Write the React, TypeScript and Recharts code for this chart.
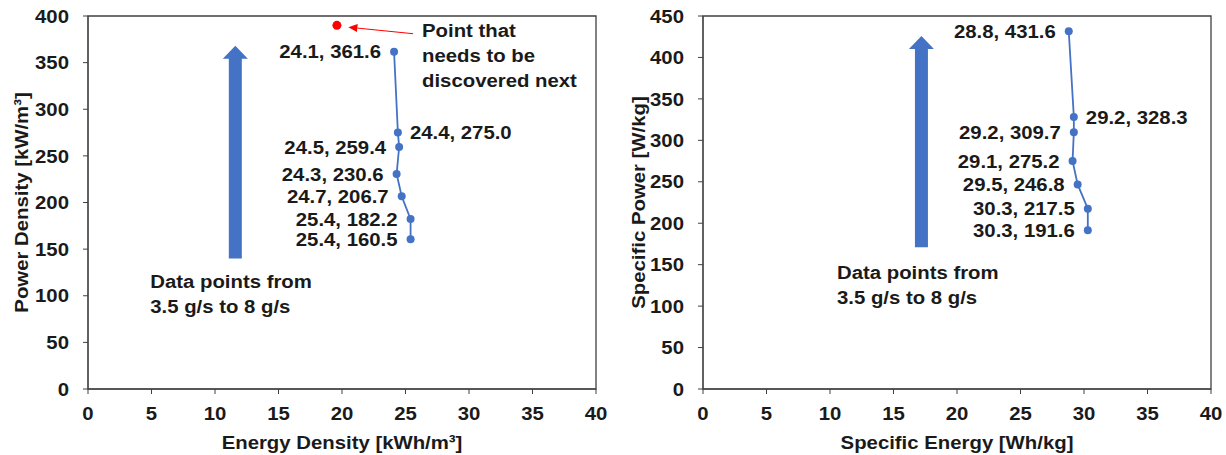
import {
  ReferenceArea,
  ReferenceDot,
  ReferenceLine,
  Scatter,
  ScatterChart,
  XAxis,
  YAxis,
} from "recharts";

// left panel: energy density vs power density
const energyDensity = [24.1, 24.4, 24.5, 24.3, 24.7, 25.4, 25.4];
const powerDensity = [361.6, 275.0, 259.4, 230.6, 206.7, 182.2, 160.5];
const nextPoint = { x: 19.6, y: 390 };

// right panel: specific energy vs specific power
const specificEnergy = [28.8, 29.2, 29.2, 29.1, 29.5, 30.3, 30.3];
const specificPower = [431.6, 328.3, 309.7, 275.2, 246.8, 217.5, 191.6];

// which labels sit on the right of their point
const labelOnRight = [false, true, false, false, false, false, false];

const xTicks = [0, 5, 10, 15, 20, 25, 30, 35, 40];
const densityTicks = [0, 50, 100, 150, 200, 250, 300, 350, 400];
const specificTicks = [0, 50, 100, 150, 200, 250, 300, 350, 400, 450];

const BLUE = "#4472C4";
const FONT = "'Liberation Sans', Arial, sans-serif";
const INK = "#1a1a1a";

const toPoints = (xs: number[], ys: number[]) =>
  xs.map((x, i) => ({ x, y: ys[i], right: labelOnRight[i] }));

// the source text is a bit wider than plain Arial bold, so stretch it along the baseline
function WText(props: {
  x: number;
  y: number;
  anchor?: "start" | "middle" | "end";
  rotate?: number;
  lines: string[];
}) {
  const { x, y, anchor = "start", rotate = 0, lines } = props;
  return (
    <text
      transform={`translate(${x},${y}) rotate(${rotate}) scale(1.1,1)`}
      textAnchor={anchor}
      dominantBaseline="central"
      fontSize={18.5}
      fontWeight="bold"
      fontFamily={FONT}
      fill={INK}
    >
      {lines.map((l, i) => (
        <tspan key={i} x={0} dy={i === 0 ? 0 : 25}>
          {l}
        </tspan>
      ))}
    </text>
  );
}

const LabeledDot = (p: any) => {
  const d = p.payload ?? p;
  const right = d.right;
  return (
    <g>
      <circle cx={p.cx} cy={p.cy} r={4} fill={BLUE} />
      <WText
        x={right ? p.cx + 12 : p.cx - 13}
        y={p.cy}
        anchor={right ? "start" : "end"}
        lines={[`${d.x.toFixed(1)}, ${d.y.toFixed(1)}`]}
      />
    </g>
  );
};

const BlockArrow = (p: any) => {
  const x = p.x1;
  const top = Math.min(p.y1, p.y2);
  const bot = Math.max(p.y1, p.y2);
  const shaft = 6.5;
  const head = 12.5;
  const headH = 13;
  const pts = [
    [x - shaft, bot],
    [x - shaft, top + headH],
    [x - head, top + headH],
    [x, top],
    [x + head, top + headH],
    [x + shaft, top + headH],
    [x + shaft, bot],
  ];
  return <polygon points={pts.map((q) => q.join(",")).join(" ")} fill={BLUE} />;
};

const Pointer = (p: any) => {
  const { x1, y1, x2, y2 } = p;
  const a = Math.atan2(y2 - y1, x2 - x1);
  const L = 9;
  const W = 4;
  const bx = x2 - L * Math.cos(a);
  const by = y2 - L * Math.sin(a);
  const nx = -Math.sin(a) * W;
  const ny = Math.cos(a) * W;
  return (
    <g>
      <line x1={x1} y1={y1} x2={bx} y2={by} stroke="#FF0000" strokeWidth={1} />
      <polygon points={`${x2},${y2} ${bx + nx},${by + ny} ${bx - nx},${by - ny}`} fill="#FF0000" />
    </g>
  );
};

const textBlock = (lines: string[]) => (p: any) => <WText x={p.cx} y={p.cy} lines={lines} />;

const XTick = (p: any) => (
  <WText x={p.x} y={p.y + 11} anchor="middle" lines={[String(p.payload.value)]} />
);
const YTick = (p: any) => <WText x={p.x} y={p.y} anchor="end" lines={[String(p.payload.value)]} />;

type PanelProps = {
  points: { x: number; y: number; right: boolean }[];
  yMax: number;
  yTicks: number[];
  yAxisWidth: number;
  marginRight: number;
  xTitle: string;
  yTitle: string;
  yTitleX: number;
  arrow: { x: number; from: number; to: number };
  note: { x: number; y: number };
  children?: React.ReactNode;
};

function Panel(props: PanelProps) {
  const { points, yMax, yTicks, arrow, note } = props;
  return (
    <ScatterChart
      width={613}
      height={455}
      margin={{ top: 16, right: props.marginRight, bottom: 16, left: 0 }}
    >
      <ReferenceArea
        x1={0}
        x2={40}
        y1={0}
        y2={yMax}
        fill="none"
        stroke="#404040"
        strokeWidth={1.3}
        ifOverflow="visible"
      />
      <XAxis
        type="number"
        dataKey="x"
        domain={[0, 40]}
        ticks={xTicks}
        interval={0}
        height={50}
        tickSize={5}
        tickMargin={8}
        stroke="#404040"
        tick={XTick}
        label={{
          content: ({ viewBox }: any) => (
            <WText
              x={viewBox.x + viewBox.width / 2}
              y={viewBox.y + 53}
              anchor="middle"
              lines={[props.xTitle]}
            />
          ),
        }}
      />
      <YAxis
        type="number"
        dataKey="y"
        domain={[0, yMax]}
        ticks={yTicks}
        interval={0}
        width={props.yAxisWidth}
        tickSize={5}
        tickMargin={14}
        stroke="#404040"
        tick={YTick}
        label={{
          content: ({ viewBox }: any) => (
            <WText
              x={props.yTitleX}
              y={viewBox.y + viewBox.height / 2}
              anchor="middle"
              rotate={-90}
              lines={[props.yTitle]}
            />
          ),
        }}
      />
      <ReferenceLine
        segment={[
          { x: arrow.x, y: arrow.from },
          { x: arrow.x, y: arrow.to },
        ]}
        shape={BlockArrow}
      />
      <ReferenceDot
        x={note.x}
        y={note.y}
        r={0}
        shape={textBlock(["Data points from", "3.5 g/s to 8 g/s"])}
      />
      {props.children}
      <Scatter
        data={points}
        line={{ stroke: BLUE, strokeWidth: 1.8 }}
        lineType="joint"
        shape={LabeledDot}
        isAnimationActive={false}
      />
    </ScatterChart>
  );
}

export default function App() {
  return (
    <div
      style={{
        position: "absolute",
        left: 0,
        top: 0,
        width: 1226,
        height: 455,
        background: "#fff",
        display: "flex",
      }}
    >
      <Panel
        points={toPoints(energyDensity, powerDensity)}
        yMax={400}
        yTicks={densityTicks}
        yAxisWidth={88}
        marginRight={17}
        xTitle="Energy Density [kWh/m³]"
        yTitle="Power Density [kW/m³]"
        yTitleX={21}
        arrow={{ x: 11.6, from: 140, to: 368 }}
        note={{ x: 4.9, y: 115 }}
      >
        <ReferenceLine
          segment={[
            { x: 25.6, y: 381 },
            { x: 20.5, y: 388 },
          ]}
          shape={Pointer}
        />
        <ReferenceDot
          x={26.3}
          y={385}
          r={0}
          shape={textBlock(["Point that", "needs to be", "discovered next"])}
        />
        <Scatter
          data={[nextPoint]}
          fill="#FF0000"
          shape={(p: any) => <circle cx={p.cx} cy={p.cy} r={4.5} fill="#FF0000" />}
          isAnimationActive={false}
        />
      </Panel>
      <Panel
        points={toPoints(specificEnergy, specificPower)}
        yMax={450}
        yTicks={specificTicks}
        yAxisWidth={90}
        marginRight={15}
        xTitle="Specific Energy [Wh/kg]"
        yTitle="Specific Power [W/kg]"
        yTitleX={25}
        arrow={{ x: 17.2, from: 171, to: 426 }}
        note={{ x: 10.55, y: 141 }}
      />
    </div>
  );
}
